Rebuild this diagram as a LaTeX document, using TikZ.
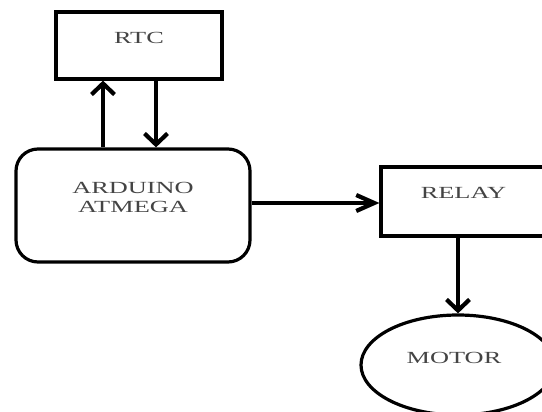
\documentclass[tikz,border=0pt]{standalone}
\usepackage{fontspec}
\setmainfont{Liberation Serif}
\usepackage{graphicx}
\usepackage{tikz}
\usetikzlibrary{arrows.meta, shapes.geometric}
\usepackage{xcolor}
\definecolor{labelgray}{HTML}{444444}
\newcommand{\widetxt}[1]{\scalebox{1.55}[1]{#1}}

\begin{document}
\begin{tikzpicture}[x=1pt, y=-1pt,
    block/.style={draw, line width=3.2pt, inner sep=0pt},
    txt/.style={text=labelgray, font=\fontsize{17}{19}\selectfont, align=center},
    flow/.style={line width=4.2pt, -{Straight Barb[length=11pt, width=23pt, line width=4.2pt]}},
    hflow/.style={line width=4.2pt, -{Straight Barb[length=18pt, width=16pt, line width=4.2pt]}}]
            \useasboundingbox (0,0) rectangle (542,412);
            \clip (0,0) rectangle (542,412);
            \node[block, minimum width=166pt, minimum height=67pt,
              label={[txt, yshift=8pt]center:\widetxt{RTC}}] (rtc) at (139,45.5) {};
            \node[block, rounded corners=22pt, minimum width=234pt, minimum height=113pt,
              label={[txt, yshift=8pt]center:\widetxt{ARDUINO}\\\widetxt{ATMEGA}}] (ard) at (133,205.5) {};
            \node[block, overlay, minimum width=165pt, minimum height=69pt,
              label={[txt, yshift=8.5pt]center:\widetxt{RELAY}}] (relay) at (463.5,201.5) {};
            \node[block, overlay, ellipse, minimum width=194pt, minimum height=100pt,
              label={[txt, yshift=7pt, xshift=-4pt]center:\widetxt{MOTOR}}] (motor) at (458,365) {};
            \draw[flow] ([xshift=-36pt]rtc.south |- ard.north) -- ([xshift=-36pt]rtc.south);
            \draw[flow] ([xshift=17pt]rtc.south) -- ([xshift=17pt]rtc.south |- ard.north);
            \draw[hflow] (ard.east |- 0,203) -- (relay.west |- 0,203);
            \draw[flow] (relay.south -| motor.north) -- (motor.north);
          \end{tikzpicture}
\end{document}
